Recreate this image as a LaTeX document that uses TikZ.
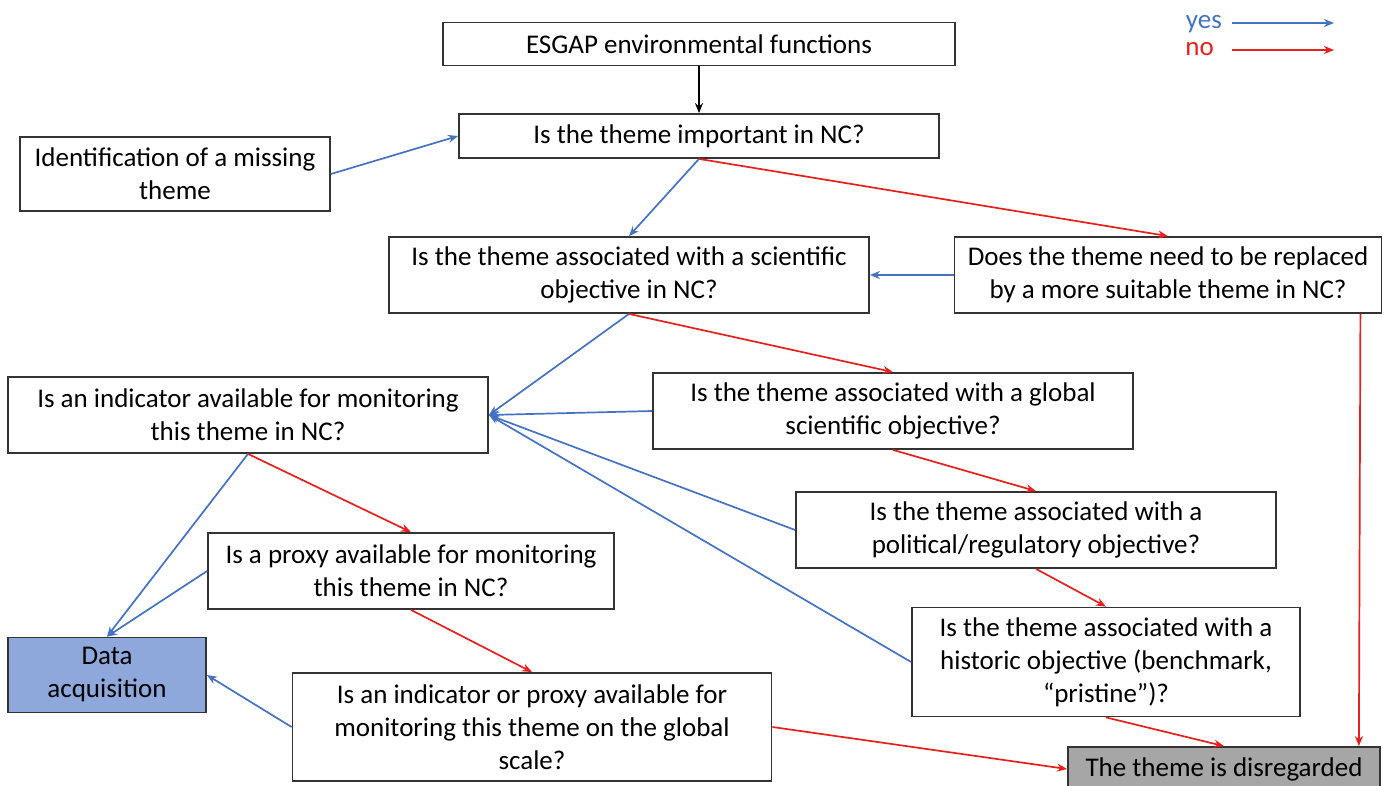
\documentclass[tikz,border=0pt]{standalone}
\usepackage{fontspec}
\setmainfont{Carlito}
\usetikzlibrary{arrows.meta}
\definecolor{yescol}{RGB}{68,114,196}
\definecolor{nocol}{RGB}{232,32,28}
\definecolor{datafill}{RGB}{142,168,219}
\definecolor{disfill}{RGB}{166,166,166}
\tikzset{
  question/.style={rectangle, draw=black!80, line width=1.8pt, fill=white, align=center, inner sep=2pt, font=\fontsize{27}{33}\selectfont},
  datanode/.style={question, fill=datafill},
  endnode/.style={question, fill=disfill},
  legend/.style={font=\fontsize{27}{30}\selectfont, inner sep=0pt},
  yesarrow/.style={draw=yescol, line width=1.7pt, -{Stealth[length=10pt,width=8pt]}},
  noarrow/.style={draw=nocol, line width=1.7pt, -{Stealth[length=10pt,width=8pt]}},
  flowarrow/.style={draw=black, line width=1.7pt, -{Stealth[length=10pt,width=8pt]}}
}
\begin{document}
\begin{tikzpicture}[x=1pt, y=-1pt]
  \useasboundingbox (0,0) rectangle (1384,785);

  % legend
  \node[legend, text=yescol, anchor=base east] (lgyes) at (1222,28) {yes};
  \node[legend, text=nocol, anchor=base east] (lgno) at (1214,55) {no};
  \coordinate (yesfrom) at (1232,23);
  \coordinate (yesto) at (1334,23);
  \coordinate (nofrom) at (1232,50);
  \coordinate (noto) at (1334,50);
  \draw[yesarrow] (yesfrom) -- (yesto);
  \draw[noarrow] (nofrom) -- (noto);

  % boxes
  \node[question, minimum width=512pt, minimum height=43pt] (esgap) at (699,44) {ESGAP environmental functions};
  \node[question, minimum width=480pt, minimum height=44pt] (imp) at (699,136) {Is the theme important in NC?};
  \node[question, minimum width=310pt, minimum height=74pt] (miss) at (175,174) {Identification of a missing\\theme};
  \node[question, minimum width=480pt, minimum height=76pt] (sci) at (629,275) {Is the theme associated with a scientific\\objective in NC?};
  \node[question, minimum width=427pt, minimum height=76pt] (repl) at (1168,275) {Does the theme need to be replaced\\by a more suitable theme in NC?};
  \node[question, minimum width=480pt, minimum height=76pt] (ind) at (248,415) {Is an indicator available for monitoring\\this theme in NC?};
  \node[question, minimum width=480pt, minimum height=76pt] (glob) at (893,411) {Is the theme associated with a global\\scientific objective?};
  \node[question, minimum width=480pt, minimum height=76pt] (pol) at (1036,530) {Is the theme associated with a\\political/regulatory objective?};
  \node[question, minimum width=406pt, minimum height=76pt] (prox) at (411,571) {Is a proxy available for monitoring\\this theme in NC?};
  \node[question, minimum width=388pt, minimum height=109pt] (hist) at (1106,662) {Is the theme associated with a\\historic objective (benchmark,\\“pristine”)?};
  \node[datanode, minimum width=198pt, minimum height=75pt] (data) at (107,675) {Data\\acquisition};
  \node[question, minimum width=479pt, minimum height=108pt] (glind) at (532,727) {Is an indicator or proxy available for\\monitoring this theme on the global\\scale?};
  \node[endnode, minimum width=312pt, minimum height=44pt] (dis) at (1224,769) {The theme is disregarded};

  % connectors
  \draw[flowarrow] (esgap.south) -- (imp.north);
  \draw[yesarrow] (miss.east) -- (imp.west);
  \draw[yesarrow] (imp.south) -- (sci.north);
  \draw[noarrow] (imp.south) -- (repl.north);
  \draw[yesarrow] (repl.west) -- (sci.east);
  \draw[noarrow] ([xshift=-22pt]repl.south east) -- ([xshift=-22pt]dis.north east);
  \draw[yesarrow] (sci.south) -- (ind.east);
  \draw[noarrow] (sci.south) -- (glob.north);
  \draw[yesarrow] (glob.west) -- (ind.east);
  \draw[noarrow] (glob.south) -- (pol.north);
  \draw[yesarrow] (pol.west) -- (ind.east);
  \draw[noarrow] (pol.south) -- (hist.north);
  \draw[yesarrow] (hist.west) -- (ind.east);
  \draw[noarrow] (hist.south) -- (dis.north);
  \draw[yesarrow] (ind.south) -- (data.north);
  \draw[noarrow] (ind.south) -- (prox.north);
  \draw[yesarrow] (prox.west) -- (data.north);
  \draw[noarrow] (prox.south) -- (glind.north);
  \draw[yesarrow] (glind.west) -- (data.east);
  \draw[noarrow] (glind.east) -- (dis.west);
\end{tikzpicture}
\end{document}
